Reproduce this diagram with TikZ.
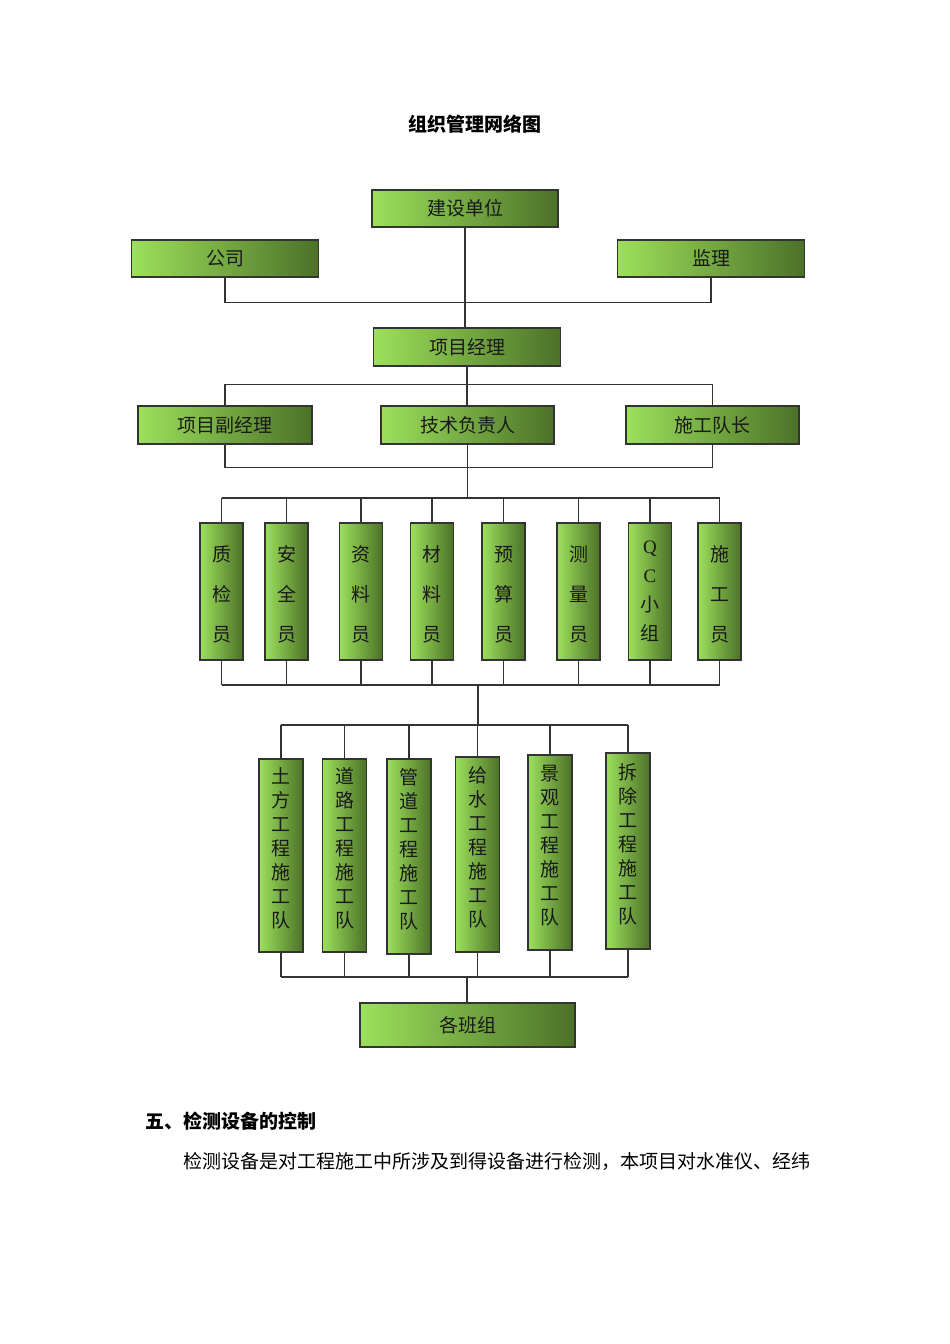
\documentclass[tikz,border=0pt]{standalone}
\usepackage{fontspec}
\setmainfont{Liberation Serif}
\newfontfamily\cjk{Noto Sans CJK SC}
\definecolor{gl}{HTML}{9CE05B}
\definecolor{gm}{HTML}{86C34C}
\definecolor{gd}{HTML}{4C7128}
\definecolor{ln}{HTML}{333333}
\begin{document}
\begin{tikzpicture}[x=1pt,y=-1pt,
  bx/.style={draw=ln, line width=1.3pt, left color=gl, middle color=gm, right color=gd,
    inner sep=0pt, align=center, text=black!90, font=\cjk\fontsize{19}{19}\selectfont},
  vq/.style={bx, minimum width=43, minimum height=137},
  vt/.style={bx, minimum width=44},
  vql/.style={inner sep=0pt, align=center, text=black!90, yshift=-3pt, font=\cjk\fontsize{19}{40}\selectfont},
  vtl/.style={inner sep=0pt, align=center, text=black!90, yshift=7pt, font=\cjk\fontsize{19}{24}\selectfont},
  conn/.style={draw=ln, line width=1.3pt}]
\useasboundingbox (0,0) rectangle (950,1344);
\fill[white] (0,0) rectangle (950,1344);

\node[font=\cjk\bfseries\fontsize{19}{19}\selectfont] (title) at (475,124) {组织管理网络图};

% top level
\node[bx, minimum width=186, minimum height=37] (js) at (465,208.5) {建设单位};
\node[bx, minimum width=187, minimum height=37] (gs) at (225,258.5) {公司};
\node[bx, minimum width=187, minimum height=37] (jl) at (711,258.5) {监理};
\node[bx, minimum width=187, minimum height=38] (xm) at (467,347) {项目经理};

\draw[conn] (gs.south) -- ++(0,25) -| (jl.south);
\draw[conn] (js.south) -- (js.south |- xm.north);

% second level
\node[bx, minimum width=174, minimum height=38] (fb) at (225,425) {项目副经理};
\node[bx, minimum width=173, minimum height=38] (jf) at (467.5,425) {技术负责人};
\node[bx, minimum width=173, minimum height=38] (sd) at (712.5,425) {施工队长};

\draw[conn] (xm.south) -- (xm.south |- jf.north);
\draw[conn] (fb.north) -- ++(0,-21) -| (sd.north);
\draw[conn] (fb.south) -- ++(0,23) -| (sd.south);

% staff row
\coordinate (busA) at (467,498);
\coordinate (busB) at (478,685);
\draw[conn] (jf.south) -- (jf.south |- busA);

\node[vq, label={[vql]center:质\\检\\员}] (q1) at (221.5,591.5) {};
\node[vq, label={[vql]center:安\\全\\员}] (q2) at (286.5,591.5) {};
\node[vq, label={[vql]center:资\\料\\员}] (q3) at (361,591.5) {};
\node[vq, label={[vql]center:材\\料\\员}] (q4) at (432,591.5) {};
\node[vq, label={[vql]center:预\\算\\员}] (q5) at (503.5,591.5) {};
\node[vq, label={[vql]center:测\\量\\员}] (q6) at (578.5,591.5) {};
\node[vq, label={[vql, yshift=3pt, font=\cjk\fontsize{19}{29}\selectfont]center:{\rmfamily Q}\\{\rmfamily C}\\小\\组}] (q7) at (650,591.5) {};
\node[vq, label={[vql]center:施\\工\\员}] (q8) at (719.5,591.5) {};

\draw[conn] (q1.north |- busA) -- (q8.north |- busA);
\draw[conn] (q1.south |- busB) -- (q8.south |- busB);
\foreach \q in {q1,q2,q3,q4,q5,q6,q7,q8}{
  \draw[conn] (\q.north) -- (\q.north |- busA);
  \draw[conn] (\q.south) -- (\q.south |- busB);
}

% teams
\coordinate (busC) at (478,725);
\coordinate (busD) at (467,977);
\draw[conn] (busB) -- (busC);

\node[vt, minimum height=193, label={[vtl]center:土\\方\\工\\程\\施\\工\\队}] (t1) at (281,855.5) {};
\node[vt, minimum height=193, label={[vtl]center:道\\路\\工\\程\\施\\工\\队}] (t2) at (344.5,855.5) {};
\node[vt, minimum height=195, label={[vtl]center:管\\道\\工\\程\\施\\工\\队}] (t3) at (409,856.5) {};
\node[vt, minimum height=195, label={[vtl]center:给\\水\\工\\程\\施\\工\\队}] (t4) at (477.5,854.5) {};
\node[vt, minimum height=195, label={[vtl]center:景\\观\\工\\程\\施\\工\\队}] (t5) at (550,852.5) {};
\node[vt, minimum height=196, label={[vtl]center:拆\\除\\工\\程\\施\\工\\队}] (t6) at (628,851) {};

\draw[conn] (t1.north |- busC) -- (t6.north |- busC);
\draw[conn] (t1.south |- busD) -- (t6.south |- busD);
\foreach \t in {t1,t2,t3,t4,t5,t6}{
  \draw[conn] (\t.north) -- (\t.north |- busC);
  \draw[conn] (\t.south) -- (\t.south |- busD);
}

\node[bx, minimum width=215, minimum height=44] (bz) at (467.5,1025) {各班组};
\draw[conn] (busD) -- (busD |- bz.north);

% text below
\node[anchor=west, inner sep=0pt, font=\cjk\bfseries\fontsize{19}{19}\selectfont] (h5) at (145,1121) {五、检测设备的控制};
\node[anchor=west, inner sep=0pt, font=\cjk\fontsize{19}{19}\selectfont] (p1) at (183,1161) {检测设备是对工程施工中所涉及到得设备进行检测，本项目对水准仪、经纬};
\end{tikzpicture}
\end{document}
